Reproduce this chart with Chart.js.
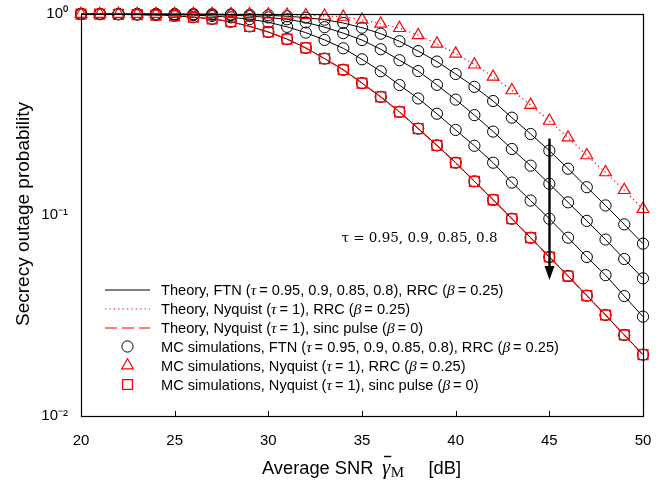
<!DOCTYPE html>
<html>
<head>
<meta charset="utf-8">
<script src="https://cdn.jsdelivr.net/npm/chart.js@4.4.1/dist/chart.umd.min.js"></script>
<style>
  html, body { margin: 0; padding: 0; background: #ffffff; }
  #wrap { width: 672px; height: 483px; }
</style>
</head>
<body>
<div id="wrap"><canvas id="c" width="672" height="483"></canvas></div>
<script>
// Average SNR of the main link, dB
const snrDb = [20, 21, 22, 23, 24, 25, 26, 27, 28, 29, 30, 31, 32, 33, 34, 35,
               36, 37, 38, 39, 40, 41, 42, 43, 44, 45, 46, 47, 48, 49, 50];

// Secrecy outage probability, FTN signalling with RRC pulse (beta = 0.25)
const ftnTau095 = [1.0, 1.0, 0.9999, 0.9997, 0.9994, 0.999, 0.9987, 0.9974, 0.995, 0.9915,
                   0.985, 0.975, 0.959, 0.937, 0.902, 0.855, 0.798, 0.732, 0.654, 0.580,
                   0.503, 0.434, 0.369, 0.305, 0.253, 0.209, 0.170, 0.1375, 0.1116, 0.0898, 0.0720];
const ftnTau090 = [0.9998, 0.9996, 0.9994, 0.9991, 0.9988, 0.9977, 0.9955, 0.9923, 0.9866, 0.977,
                   0.961, 0.941, 0.908, 0.860, 0.803, 0.742, 0.668, 0.589, 0.520, 0.444,
                   0.375, 0.314, 0.260, 0.213, 0.176, 0.143, 0.1156, 0.0935, 0.0755, 0.0604, 0.0484];
const ftnTau085 = [0.9998, 0.9995, 0.999, 0.998, 0.9957, 0.9925, 0.987, 0.9775, 0.962, 0.943,
                   0.910, 0.863, 0.808, 0.743, 0.675, 0.595, 0.519, 0.443, 0.380, 0.319,
                   0.265, 0.221, 0.182, 0.145, 0.118, 0.0958, 0.0771, 0.0618, 0.0502, 0.0395, 0.0312];
const ftnTau080 = [0.999, 0.998, 0.996, 0.993, 0.988, 0.979, 0.964, 0.946, 0.915, 0.868,
                   0.814, 0.750, 0.678, 0.600, 0.528, 0.453, 0.387, 0.326, 0.269, 0.222,
                   0.182, 0.147, 0.119, 0.0958, 0.0771, 0.0618, 0.0497, 0.0397, 0.0318, 0.0253, 0.0202];

// Nyquist signalling (tau = 1)
const nyquistRrc  = [1.0, 1.0, 1.0, 0.9999, 0.9998, 0.9996, 0.9993, 0.9988, 0.998, 0.9965,
                     0.994, 0.991, 0.986, 0.979, 0.968, 0.936, 0.894, 0.851, 0.784, 0.712,
                     0.635, 0.560, 0.487, 0.417, 0.353, 0.294, 0.243, 0.198, 0.163, 0.133, 0.107];
const nyquistSinc = [0.999, 0.998, 0.996, 0.993, 0.988, 0.979, 0.964, 0.946, 0.915, 0.868,
                     0.814, 0.750, 0.678, 0.600, 0.528, 0.453, 0.387, 0.326, 0.269, 0.222,
                     0.182, 0.147, 0.119, 0.0958, 0.0771, 0.0618, 0.0497, 0.0397, 0.0318, 0.0253, 0.0202];

// Axis ticks
const xTickValues = [20, 25, 30, 35, 40, 45, 50];
const yTickValues = [0.01, 0.1, 1];
const yTickLabels = ['10\u207B\u00B2', '10\u207B\u00B9', '10\u2070'];

// Arrow marking the direction of decreasing tau
const arrowSnr = 45;
const arrowFrom = 0.24;
const arrowTo = 0.0475;
const arrowLabel = '\u03C4 = 0.95, 0.9, 0.85, 0.8';
const arrowLabelAt = { x: 33.9, y: 0.0765 };

const SANS = '"Liberation Sans", Arial, Helvetica, sans-serif';
const SERIF = '"Liberation Serif", "Times New Roman", serif';
const BLACK = '#000000';
const RED = '#ff0000';

const pts = arr => arr.map((v, i) => ({ x: snrDb[i], y: v }));

function ftnSet(label, arr) {
  return {
    label, data: pts(arr), order: 5,
    borderColor: BLACK, borderWidth: 1, showLine: true, tension: 0,
    pointStyle: 'circle', pointRadius: 5.6, pointBorderWidth: 1,
    pointBorderColor: BLACK, pointBackgroundColor: 'rgba(0,0,0,0)',
    clip: false
  };
}

const datasets = [
  ftnSet('FTN, \u03C4 = 0.95', ftnTau095),
  ftnSet('FTN, \u03C4 = 0.9', ftnTau090),
  ftnSet('FTN, \u03C4 = 0.85', ftnTau085),
  ftnSet('FTN, \u03C4 = 0.8', ftnTau080),
  {
    label: 'Nyquist, RRC', data: pts(nyquistRrc), order: 2,
    borderColor: RED, borderWidth: 1.2, borderDash: [1.2, 3.2], tension: 0,
    pointStyle: 'triangle', pointRadius: 6.8, pointBorderWidth: 1.2,
    pointBorderColor: RED, pointBackgroundColor: 'rgba(0,0,0,0)', clip: false
  },
  {
    label: 'Nyquist, sinc', data: pts(nyquistSinc), order: 1,
    borderColor: RED, borderWidth: 1.2, borderDash: [10, 5], tension: 0,
    pointStyle: 'rect', pointRadius: 7, pointBorderWidth: 1.3,
    pointBorderColor: RED, pointBackgroundColor: 'rgba(0,0,0,0)', clip: false
  }
];

// Legend rows: sample line (dataset index) and/or marker (dataset index) plus rich text
const G = (t) => [t, 'italic 15.5px ' + SERIF];
const N = (t) => [t, '14.6px ' + SANS];
const legendRows = [
  { line: 0, text: [N('Theory, FTN ('), G('\u03C4'), N('\u2009= 0.95, 0.9, 0.85, 0.8), RRC ('), G('\u03B2'), N('\u2009= 0.25)')] },
  { line: 4, dash: [1.2, 3.2], text: [N('Theory, Nyquist ('), G('\u03C4'), N('\u2009= 1), RRC ('), G('\u03B2'), N('\u2009= 0.25)')] },
  { line: 5, dash: [12, 5], text: [N('Theory, Nyquist ('), G('\u03C4'), N('\u2009= 1), sinc pulse ('), G('\u03B2'), N('\u2009= 0)')] },
  { marker: 0, text: [N('MC simulations, FTN ('), G('\u03C4'), N('\u2009= 0.95, 0.9, 0.85, 0.8), RRC ('), G('\u03B2'), N('\u2009= 0.25)')] },
  { marker: 4, text: [N('MC simulations, Nyquist ('), G('\u03C4'), N('\u2009= 1), RRC ('), G('\u03B2'), N('\u2009= 0.25)')] },
  { marker: 5, text: [N('MC simulations, Nyquist ('), G('\u03C4'), N('\u2009= 1), sinc pulse ('), G('\u03B2'), N('\u2009= 0)')] }
];

function drawMarker(ctx, ds, x, y) {
  const r = ds.pointRadius;
  ctx.save();
  ctx.strokeStyle = ds.pointBorderColor;
  ctx.lineWidth = ds.pointBorderWidth;
  ctx.setLineDash([]);
  ctx.beginPath();
  if (ds.pointStyle === 'circle') {
    ctx.arc(x, y, r, 0, Math.PI * 2);
  } else if (ds.pointStyle === 'triangle') {
    ctx.moveTo(x, y - r);
    ctx.lineTo(x + r * Math.sin(2 * Math.PI / 3), y + r / 2);
    ctx.lineTo(x - r * Math.sin(2 * Math.PI / 3), y + r / 2);
    ctx.closePath();
  } else {
    const s = r * Math.SQRT1_2;
    ctx.rect(x - s, y - s, 2 * s, 2 * s);
  }
  ctx.stroke();
  ctx.restore();
}

function richText(ctx, x, y, segs) {
  for (const [t, f] of segs) {
    ctx.font = f;
    ctx.fillText(t, x, y);
    x += ctx.measureText(t).width;
  }
  return x;
}

const decorations = {
  id: 'decorations',
  afterDatasetsDraw(chart) {
    const { ctx, chartArea: a, scales } = chart;
    const xs = scales.x, ys = scales.y;
    ctx.save();

    // frame around the plot
    ctx.strokeStyle = BLACK;
    ctx.lineWidth = 1.2;
    ctx.setLineDash([]);
    ctx.strokeRect(a.left + 0.5, a.top + 0.5, a.right - a.left, a.bottom - a.top);

    // inward tick marks on the bottom axis
    ctx.lineWidth = 1;
    ctx.beginPath();
    for (const t of xs.ticks) {
      const px = Math.round(xs.getPixelForValue(t.value)) + 0.5;
      ctx.moveTo(px, a.bottom);
      ctx.lineTo(px, a.bottom - 5);
    }
    ctx.stroke();

    // arrow across the FTN curves
    const ax = Math.round(xs.getPixelForValue(arrowSnr)) + 0.5;
    const ay0 = ys.getPixelForValue(arrowFrom);
    const ay1 = ys.getPixelForValue(arrowTo);
    ctx.strokeStyle = BLACK;
    ctx.fillStyle = BLACK;
    ctx.lineWidth = 2.4;
    ctx.beginPath();
    ctx.moveTo(ax, ay0);
    ctx.lineTo(ax, ay1 - 10);
    ctx.stroke();
    ctx.beginPath();
    ctx.moveTo(ax, ay1);
    ctx.lineTo(ax - 5, ay1 - 14);
    ctx.lineTo(ax + 5, ay1 - 14);
    ctx.closePath();
    ctx.fill();

    ctx.font = '13.5px "DejaVu Serif", serif';
    ctx.textAlign = 'left';
    ctx.textBaseline = 'middle';
    ctx.fillText(arrowLabel, xs.getPixelForValue(arrowLabelAt.x), ys.getPixelForValue(arrowLabelAt.y));

    // legend
    const rowY0 = 289.5, rowStep = 19;
    ctx.textBaseline = 'middle';
    legendRows.forEach((row, i) => {
      const y = rowY0 + i * rowStep;
      if (row.line !== undefined) {
        const ds = chart.data.datasets[row.line];
        ctx.strokeStyle = ds.borderColor;
        ctx.lineWidth = ds.borderWidth;
        ctx.setLineDash(row.dash || []);
        ctx.beginPath();
        ctx.moveTo(105, y + 0.5);
        ctx.lineTo(150, y + 0.5);
        ctx.stroke();
        ctx.setLineDash([]);
      }
      if (row.marker !== undefined) {
        drawMarker(ctx, chart.data.datasets[row.marker], 127.5, y);
      }
      ctx.fillStyle = BLACK;
      richText(ctx, 161, y + 1, row.text);
    });

    // y-axis title
    ctx.save();
    ctx.translate(24, 214);
    ctx.rotate(-Math.PI / 2);
    ctx.font = '19px ' + SANS;
    ctx.textAlign = 'center';
    ctx.textBaseline = 'middle';
    ctx.fillStyle = BLACK;
    ctx.fillText('Secrecy outage probability', 0, 0);
    ctx.restore();

    // x-axis title: Average SNR  gamma-bar_M  [dB]
    const base = 474;
    ctx.textAlign = 'left';
    ctx.textBaseline = 'alphabetic';
    ctx.fillStyle = BLACK;
    ctx.font = '18.3px ' + SANS;
    ctx.fillText('Average SNR', 262, base);
    ctx.font = 'italic 21px ' + SERIF;
    const gx = 382;
    ctx.fillText('\u03B3', gx, base);
    const gw = ctx.measureText('\u03B3').width;
    ctx.lineWidth = 1.4;
    ctx.strokeStyle = BLACK;
    ctx.beginPath();
    ctx.moveTo(gx + 2, 456.5);
    ctx.lineTo(gx + gw + 1, 456.5);
    ctx.stroke();
    ctx.font = '15px ' + SERIF;
    ctx.fillText('M', gx + gw + 0.5, base + 3);
    ctx.font = '18.3px ' + SANS;
    ctx.textAlign = 'right';
    ctx.fillText('[dB]', 461, base);

    ctx.restore();
  }
};

new Chart(document.getElementById('c'), {
  type: 'line',
  data: { datasets },
  options: {
    responsive: false,
    animation: false,
    devicePixelRatio: 1,
    layout: { padding: { top: 12, right: 29, left: 0, bottom: 0 } },
    plugins: { legend: { display: false }, tooltip: { enabled: false } },
    scales: {
      x: {
        type: 'linear', min: 20, max: 50,
        grid: { display: false }, border: { display: false },
        afterBuildTicks: s => { s.ticks = xTickValues.map(v => ({ value: v })); },
        afterFit: s => { s.height = 67; },
        ticks: { color: BLACK, padding: 8, font: { family: SANS, size: 15 }, maxRotation: 0,
                 callback: v => String(v) }
      },
      y: {
        type: 'logarithmic', min: 0.01, max: 1,
        grid: { display: false }, border: { display: false },
        afterBuildTicks: s => { s.ticks = yTickValues.map(v => ({ value: v })); },
        afterFit: s => { s.width = 81; },
        ticks: { color: BLACK, padding: 5, font: { family: SANS, size: 15 },
                 callback: v => yTickLabels[yTickValues.indexOf(v)] ?? '' }
      }
    }
  },
  plugins: [decorations]
});
</script>
</body>
</html>
